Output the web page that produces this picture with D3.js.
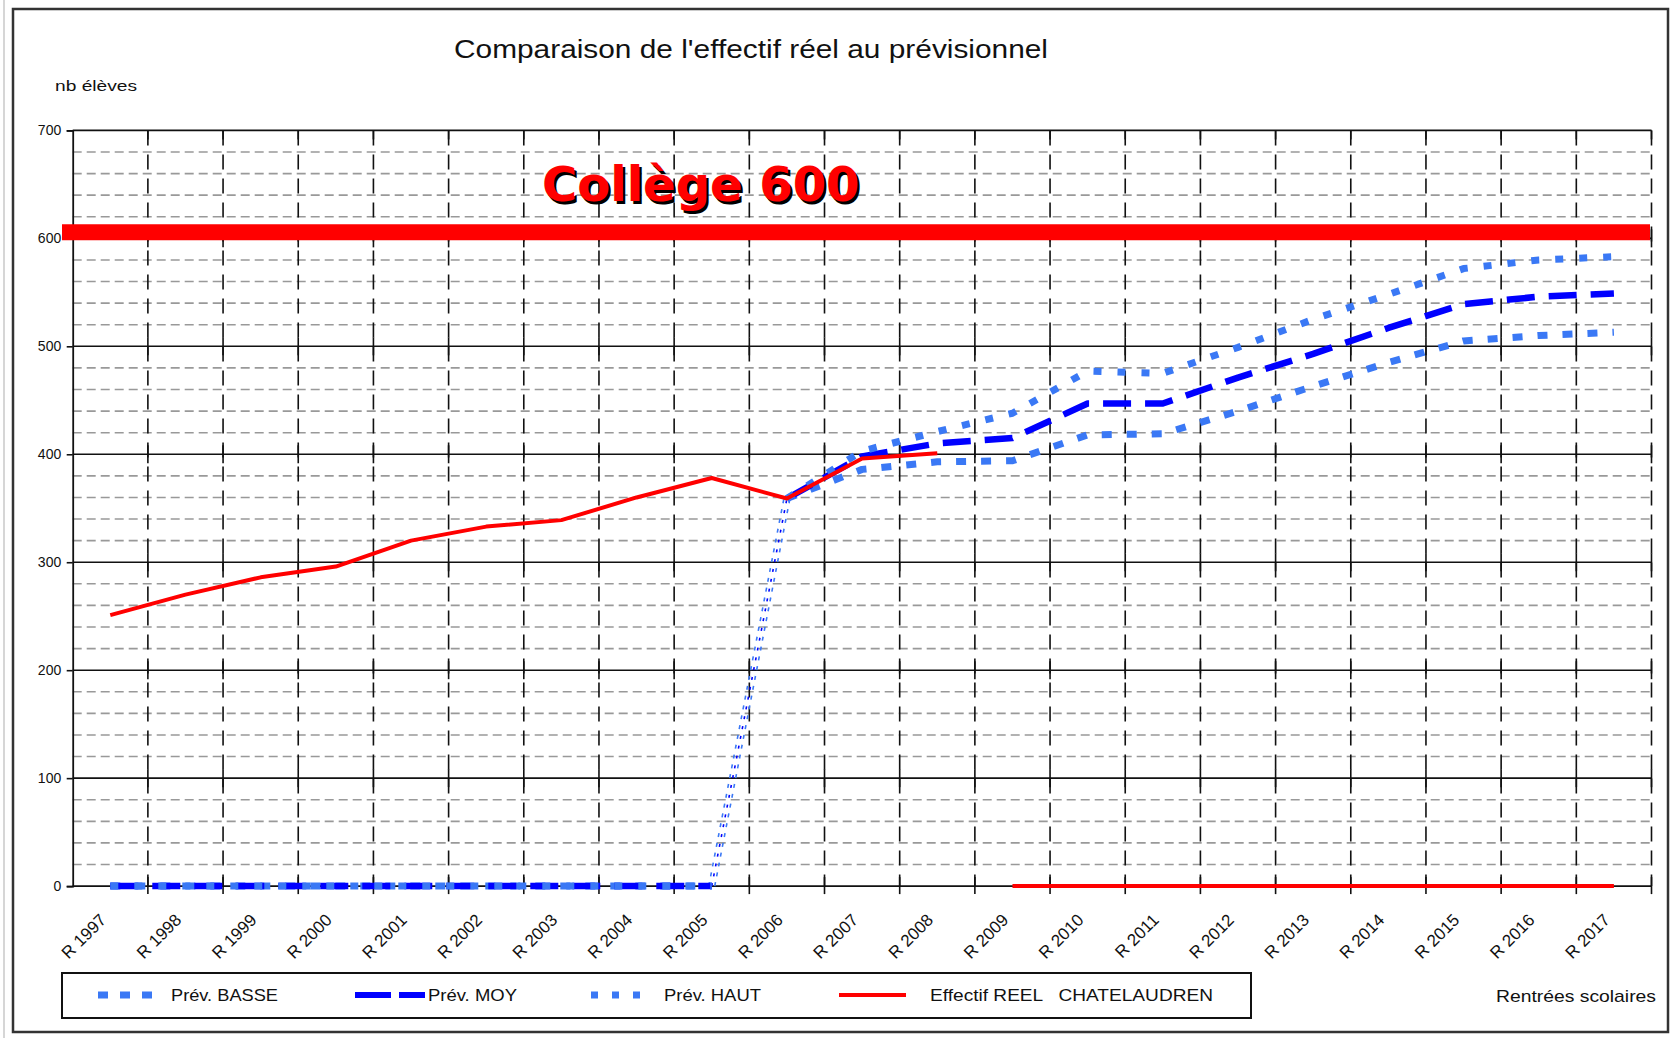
<!DOCTYPE html>
<html><head><meta charset="utf-8">
<script src="https://cdn.jsdelivr.net/npm/d3@7"></script>
<style>body{margin:0;background:#fff;} svg{display:block;}</style>
</head><body>
<svg id="chart" width="1676" height="1038"></svg>
<script>
// ---- data ----
const categories = ["R 1997","R 1998","R 1999","R 2000","R 2001","R 2002","R 2003","R 2004","R 2005","R 2006","R 2007","R 2008","R 2009","R 2010","R 2011","R 2012","R 2013","R 2014","R 2015","R 2016","R 2017"];
const prevBasse    = [0,0,0,0,0,0,0,0,0,359,386,393,394,418,419,440,463,485,505,510,513];
const prevMoy      = [0,0,0,0,0,0,0,0,0,359,398,410,415,447,447,471,493,517,539,546,549];
const prevHaut     = [0,0,0,0,0,0,0,0,0,359,403,421,438,477,475,499,525,548,572,580,583];
const effectifReel = [251,270,286,296,320,333,339,360,378,359,396,401,0,0,0,0,0,0,0,0,0];
const capacite = 600;
const yTicks = [0,100,200,300,400,500,600,700];
const yMinor = [20,40,60,80,120,140,160,180,220,240,260,280,320,340,360,380,420,440,460,480,520,540,560,580,620,640,660,680];
const seriesNames = ["Prév. BASSE","Prév. MOY","Prév. HAUT","Effectif REEL   CHATELAUDREN"];

// ---- layout ----
const svg = d3.select("#chart");
const L = 72.7, R = 1651.5, T = 130.4, B = 886.1;
const x = d3.scaleBand().domain(categories).range([L, R]).paddingInner(0).paddingOuter(0);
const y = d3.scaleLinear().domain([0, 700]).range([B, T]);
const bw = x.bandwidth();
const cx = (i) => x(categories[i]) + bw / 2;

svg.append("rect").attr("width",1676).attr("height",1038).attr("fill","#fff");
svg.append("line").attr("x1",4).attr("x2",4).attr("y1",0).attr("y2",1038).attr("stroke","#c8c8c8").attr("stroke-width",1.5);
svg.append("rect").attr("x",13).attr("y",9).attr("width",1655).attr("height",1023)
  .attr("fill","none").attr("stroke","#333").attr("stroke-width",2.5);

// minor horizontal grid
const g = svg.append("g");
g.selectAll(".minor").data(yMinor).join("line")
  .attr("x1",L).attr("x2",R).attr("y1",d=>y(d)).attr("y2",d=>y(d))
  .attr("stroke","#999").attr("stroke-width",1.6).attr("stroke-dasharray","9,5");

// vertical grid (boundaries)
const bounds = categories.map(c => x(c)).slice(1).concat([R]);
g.selectAll(".vg").data(bounds).join("line")
  .attr("x1",d=>d).attr("x2",d=>d).attr("y1",T).attr("y2",B)
  .attr("stroke","#111").attr("stroke-width",1.6).attr("stroke-dasharray","15,9");
// solid crossings at major lines
yTicks.forEach(v => {
  g.selectAll(null).data(bounds).join("line")
    .attr("x1",d=>d).attr("x2",d=>d)
    .attr("y1",y(v) - (v===700?0:9)).attr("y2",y(v) + (v===0?8:9))
    .attr("stroke","#111").attr("stroke-width",1.6);
});
// major horizontal lines
g.selectAll(".major").data(yTicks).join("line")
  .attr("x1",L).attr("x2",R).attr("y1",d=>y(d)).attr("y2",d=>y(d))
  .attr("stroke","#111").attr("stroke-width",1.6);

// y axis
const ya = svg.append("g").attr("transform",`translate(${L},0)`)
  .call(d3.axisLeft(y).tickValues(yTicks).tickSize(6).tickPadding(5.5).tickFormat(d3.format("d")));
ya.select(".domain").attr("stroke","#111").attr("stroke-width",1.8);
ya.selectAll(".tick line").attr("stroke","#111").attr("stroke-width",1.6);
ya.selectAll(".tick text").attr("font-family","Liberation Sans, Arial, sans-serif").attr("font-size",14).attr("fill","#111");

// x axis labels
const xa = svg.append("g").attr("transform",`translate(0,${B})`)
  .call(d3.axisBottom(x).tickSize(0));
xa.select(".domain").remove();
xa.selectAll(".tick text")
  .attr("font-family","Liberation Sans, Arial, sans-serif").attr("font-size",17).attr("fill","#111")
  .attr("text-anchor","end").attr("dy",null).attr("y",0)
  .attr("transform","translate(-3,35) rotate(-45)");

// capacity band
svg.append("line").attr("x1",62).attr("x2",1650)
  .attr("y1",y(capacite)-6).attr("y2",y(capacite)-6)
  .attr("stroke","#ff0000").attr("stroke-width",16);
const capLabel = `Collège ${capacite}`;
svg.append("text").attr("x",544.5).attr("y",203.5).text(capLabel)
  .attr("font-family","DejaVu Sans, sans-serif").attr("font-weight","bold").attr("font-size",48).attr("fill","#000");
svg.append("text").attr("x",542).attr("y",201).text(capLabel)
  .attr("font-family","DejaVu Sans, sans-serif").attr("font-weight","bold").attr("font-size",48).attr("fill","#ff0000");

// series drawing helpers
function runs(vals){
  const out = []; let cur = [0];
  for (let i=1;i<vals.length;i++){
    if ((vals[i]>0) === (vals[i-1]>0)) cur.push(i);
    else { out.push({type:"run",idx:cur}); out.push({type:"jump",idx:[i-1,i]}); cur=[i]; }
  }
  out.push({type:"run",idx:cur});
  return out;
}
const line = d3.line().x(d=>d[0]).y(d=>d[1]);
function drawSeries(vals, style, jumpStyle, jumpOffset){
  const sg = svg.append("g");
  runs(vals).forEach(r => {
    if (r.type==="jump" && !jumpStyle) return;
    const st = r.type==="run" ? style : jumpStyle;
    const off = r.type==="jump" ? (jumpOffset||0) : 0;
    sg.append("path").attr("d", line(r.idx.map(i=>[cx(i)+off, y(vals[i])])))
      .attr("fill","none").attr("stroke",st.color).attr("stroke-width",st.w)
      .attr("stroke-dasharray",st.dash||null).attr("stroke-linejoin","round");
  });
}
const lightBlue = "#3a78f5";
const styBasse = {color:lightBlue, w:7, dash:"10,15"};
const styMoy   = {color:"#0000ff", w:6.5, dash:"28,14"};
const styHaut  = {color:lightBlue, w:7, dash:"8,16"};
const styReel  = {color:"#ff0000", w:4};
drawSeries(prevBasse, styBasse, {color:lightBlue, w:1.6, dash:"4,6"}, -3);
drawSeries(prevMoy, styMoy, {color:"#0000ff", w:1.6, dash:"3,7"}, 0);
drawSeries(prevHaut, styHaut, {color:lightBlue, w:1.6, dash:"4,6"}, 3);
drawSeries(effectifReel, styReel, null);

// title & labels
const fontA = "Liberation Sans, Arial, sans-serif";
svg.append("text").attr("x",454).attr("y",58).text("Comparaison de l'effectif réel au prévisionnel")
  .attr("font-family",fontA).attr("font-size",25).attr("fill","#111")
  .attr("textLength",594).attr("lengthAdjust","spacingAndGlyphs");
svg.append("text").attr("x",55).attr("y",91).text("nb élèves")
  .attr("font-family",fontA).attr("font-size",15).attr("fill","#111")
  .attr("textLength",82).attr("lengthAdjust","spacingAndGlyphs");
svg.append("text").attr("x",1496).attr("y",1002).text("Rentrées scolaires")
  .attr("font-family",fontA).attr("font-size",17).attr("fill","#111")
  .attr("textLength",160).attr("lengthAdjust","spacingAndGlyphs");

// legend
svg.append("rect").attr("x",62).attr("y",973).attr("width",1189).attr("height",45)
  .attr("fill","#fff").attr("stroke","#111").attr("stroke-width",2);
const legItems = [
  {name:seriesNames[0], st:{color:lightBlue,w:7,dash:"10,12"}, x1:98, x2:160, tx:171, tl:107},
  {name:seriesNames[1], st:{color:"#0000ff",w:6,dash:"36,8"}, x1:355, x2:425, tx:428, tl:89},
  {name:seriesNames[2], st:{color:lightBlue,w:7,dash:"7,14"}, x1:591, x2:654, tx:664, tl:97},
  {name:seriesNames[3], st:{color:"#ff0000",w:4}, x1:839, x2:906, tx:930, tl:283}
];
legItems.forEach(it => {
  svg.append("line").attr("x1",it.x1).attr("x2",it.x2).attr("y1",995).attr("y2",995)
    .attr("stroke",it.st.color).attr("stroke-width",it.st.w).attr("stroke-dasharray",it.st.dash||null);
  svg.append("text").attr("x",it.tx).attr("y",1001).text(it.name)
    .attr("xml:space","preserve").style("white-space","pre")
    .attr("font-family",fontA).attr("font-size",17).attr("fill","#111")
    .attr("textLength",it.tl).attr("lengthAdjust","spacingAndGlyphs");
});
</script>
</body></html>
